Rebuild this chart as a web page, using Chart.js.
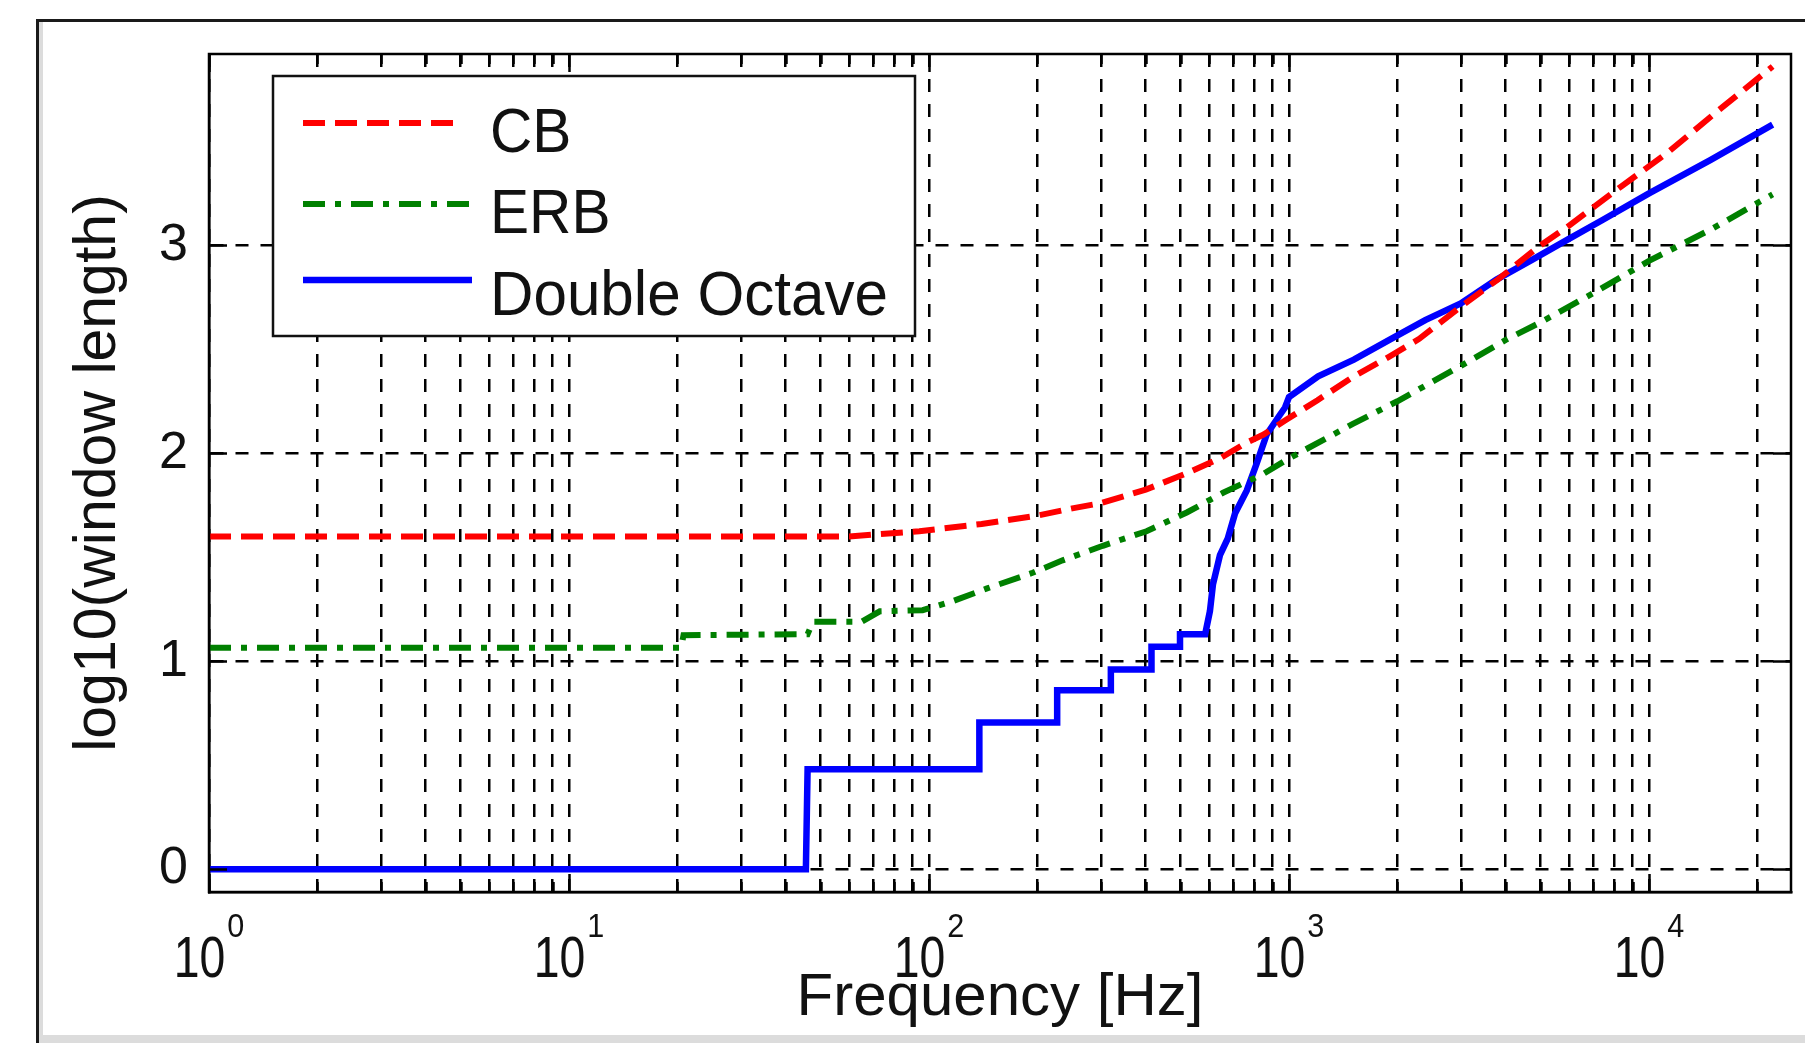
<!DOCTYPE html>
<html>
<head>
<meta charset="utf-8">
<title>log10(window length) vs frequency</title>
<script src="https://cdn.jsdelivr.net/npm/chart.js@4.4.1/dist/chart.umd.min.js"></script>
<style>
    html, body { margin: 0; padding: 0; background: #fff; }
    canvas { display: block; }
</style>
</head>
<body>
<canvas id="chartCanvas" width="1805" height="1043"></canvas>
<script>
// values (x in Hz, y in log10 units)
const cbFreq = [1, 60, 94, 140, 200, 250, 300, 400, 530, 650, 760, 850, 980, 1200, 1500, 1900, 2300, 3000, 3800, 4950, 5950, 8400, 11250, 15500, 22050];
const cbValues = [1.60, 1.60, 1.625, 1.66, 1.70, 1.735, 1.76, 1.825, 1.91, 1.98, 2.05, 2.09, 2.16, 2.255, 2.365, 2.465, 2.55, 2.705, 2.835, 2.995, 3.09, 3.285, 3.445, 3.645, 3.86];

const erbFreq = [1, 20.5, 20.8, 46, 47.6, 65, 73, 96, 117, 145, 194, 235, 304, 402, 520, 656, 847, 1000, 1500, 2000, 3000, 4000, 5000, 7000, 10000, 15000, 22050];
const erbValues = [1.065, 1.065, 1.125, 1.13, 1.19, 1.19, 1.24, 1.245, 1.29, 1.35, 1.425, 1.485, 1.555, 1.625, 1.715, 1.81, 1.90, 1.975, 2.14, 2.25, 2.42, 2.545, 2.63, 2.77, 2.925, 3.08, 3.245];

const octFreq = [1, 45.5, 46, 138, 138, 227, 227, 320, 320, 415, 415, 498, 498, 585, 603, 615, 643, 676, 708, 763, 813, 867, 944, 975, 1000, 1205, 1514, 1900, 2390, 3000, 3770, 4730, 5940, 7470, 10000, 14800, 22050];
const octValues = [0, 0, 0.48, 0.48, 0.705, 0.705, 0.86, 0.86, 0.96, 0.96, 1.07, 1.07, 1.13, 1.13, 1.24, 1.37, 1.51, 1.59, 1.71, 1.82, 1.95, 2.09, 2.185, 2.22, 2.27, 2.37, 2.45, 2.545, 2.64, 2.72, 2.835, 2.93, 3.027, 3.124, 3.25, 3.41, 3.58];

const seriesNames = ['CB', 'ERB', 'Double Octave'];
const yTickValues = [0, 1, 2, 3];
const xDecades = [0, 1, 2, 3, 4];
const xMinorSteps = [1, 2, 3, 4, 5, 6, 7, 8, 9];

const FONT = "'Liberation Sans', Arial, Helvetica, sans-serif";

// minor + major log grid positions, 1 Hz .. 2e4 Hz
const xGridValues = [];
xDecades.forEach((d) => {
    xMinorSteps.forEach((m) => {
        const v = m * Math.pow(10, d);
        if (v <= 20000) xGridValues.push(v);
    });
});

function toPoints(xs, ys) {
    return xs.map((x, i) => ({ x: x, y: ys[i] }));
}

const lineStyles = [
    { color: '#ff0000', width: 6, dash: [22, 10] },
    { color: '#008000', width: 6, dash: [22, 10, 6, 10] },
    { color: '#0000ff', width: 6.5, dash: [] },
];

// squeezed text helper (the reference text is a bit condensed)
function squeezedText(ctx, text, x, y, sx) {
    ctx.save();
    ctx.translate(x, y);
    ctx.scale(sx, 1);
    ctx.fillText(text, 0, 0);
    ctx.restore();
}

// figure frame, inward ticks, axes box
const framePlugin = {
    id: 'frame',
    afterDatasetsDraw(chart) {
        const ctx = chart.ctx;
        const a = chart.chartArea;
        const xs = chart.scales.x;
        const ys = chart.scales.y;
        ctx.save();
        ctx.strokeStyle = '#000';
        ctx.lineWidth = 2.5;
        ctx.setLineDash([]);
        ctx.beginPath();
        xGridValues.forEach((v) => {
            const px = Math.round(xs.getPixelForValue(v)) + 0.5;
            const len = Math.log10(v) % 1 === 0 ? 18 : 10;
            ctx.moveTo(px, a.bottom); ctx.lineTo(px, a.bottom - len);
            ctx.moveTo(px, a.top); ctx.lineTo(px, a.top + len);
        });
        yTickValues.forEach((v) => {
            const py = Math.round(ys.getPixelForValue(v)) + 0.5;
            ctx.moveTo(a.left, py); ctx.lineTo(a.left + 18, py);
            ctx.moveTo(a.right, py); ctx.lineTo(a.right - 18, py);
        });
        ctx.stroke();
        ctx.lineWidth = 2.5;
        ctx.strokeRect(a.left, a.top, a.right - a.left, a.bottom - a.top);
        ctx.restore();
    },
    afterDraw(chart) {
        const ctx = chart.ctx;
        const { width, height } = chart;
        const xs = chart.scales.x;
        ctx.save();
        // window border of the original screenshot
        ctx.fillStyle = '#dcdcdc';
        ctx.fillRect(39, 22, 4, height - 22);
        ctx.fillRect(39, height - 8, width - 39, 8);
        ctx.strokeStyle = '#1a1a1a';
        ctx.lineWidth = 3;
        ctx.beginPath();
        ctx.moveTo(37.5, height);
        ctx.lineTo(37.5, 20.5);
        ctx.lineTo(width, 20.5);
        ctx.stroke();

        // x tick labels 10^k
        ctx.fillStyle = '#111';
        ctx.textBaseline = 'alphabetic';
        ctx.textAlign = 'left';
        xDecades.forEach((k) => {
            const px = xs.getPixelForValue(Math.pow(10, k));
            ctx.font = `58px ${FONT}`;
            const baseW = ctx.measureText('10').width * 0.8;
            ctx.font = `34px ${FONT}`;
            const supW = ctx.measureText(String(k)).width * 0.9;
            const start = px - (baseW + 2 + supW) / 2;
            ctx.font = `58px ${FONT}`;
            squeezedText(ctx, '10', start, 977, 0.8);
            ctx.font = `34px ${FONT}`;
            squeezedText(ctx, String(k), start + baseW + 2, 937, 0.9);
        });
        ctx.restore();
    },
};

// boxed legend in the upper left of the axes
const legendPlugin = {
    id: 'boxLegend',
    afterDraw(chart) {
        const ctx = chart.ctx;
        const a = chart.chartArea;
        const left = a.left + 64;
        const top = a.top + 22;
        const w = 642;
        const h = 260;
        const rowY = [69, 150, 226];
        ctx.save();
        ctx.fillStyle = '#fff';
        ctx.fillRect(left, top, w, h);
        ctx.strokeStyle = '#111';
        ctx.lineWidth = 2.5;
        ctx.strokeRect(left, top, w, h);
        seriesNames.forEach((name, i) => {
            const st = lineStyles[i];
            const y = top + rowY[i] - 22;
            ctx.beginPath();
            ctx.setLineDash(st.dash);
            ctx.strokeStyle = st.color;
            ctx.lineWidth = st.width;
            ctx.moveTo(left + 30, y);
            ctx.lineTo(left + (i === 0 ? 190 : 199), y);
            ctx.stroke();
            ctx.setLineDash([]);
            ctx.fillStyle = '#111';
            ctx.font = `63px ${FONT}`;
            ctx.textBaseline = 'alphabetic';
            ctx.textAlign = 'left';
            squeezedText(ctx, name, left + 217, y + 27 + (i === 2 ? 8 : 2), i === 2 ? 0.955 : 0.93);
        });
        ctx.restore();
    },
};

const datasets = [
    toPoints(cbFreq, cbValues),
    toPoints(erbFreq, erbValues),
    toPoints(octFreq, octValues),
].map((pts, i) => ({
    label: seriesNames[i],
    data: pts,
    showLine: true,
    borderColor: lineStyles[i].color,
    backgroundColor: lineStyles[i].color,
    borderWidth: lineStyles[i].width,
    borderDash: lineStyles[i].dash,
    borderCapStyle: 'butt',
    borderJoinStyle: 'miter',
    pointRadius: 0,
    tension: 0,
    fill: false,
}));

new Chart(document.getElementById('chartCanvas'), {
    type: 'scatter',
    data: { datasets: datasets },
    options: {
        responsive: false,
        animation: false,
        layout: { padding: { top: 54, right: 14, bottom: 0, left: 0 } },
        plugins: {
            legend: { display: false },
            tooltip: { enabled: false },
        },
        scales: {
            x: {
                type: 'logarithmic',
                position: 'bottom',
                min: 1,
                max: 24800,
                afterBuildTicks: (scale) => {
                    scale.ticks = xGridValues.map((v) => ({ value: v }));
                },
                afterFit: (scale) => { scale.height = 151; },
                ticks: { display: false },
                grid: { color: '#000', lineWidth: 2.5, drawTicks: false },
                border: { display: true, color: '#000', width: 2.5, dash: [13, 12] },
                title: {
                    display: true,
                    text: 'Frequency [Hz]',
                    color: '#111',
                    font: { family: FONT, size: 60, lineHeight: 1 },
                    padding: { top: 0, bottom: 15 },
                },
            },
            y: {
                type: 'linear',
                min: -0.11,
                max: 3.92,
                afterBuildTicks: (scale) => {
                    scale.ticks = yTickValues.map((v) => ({ value: v }));
                },
                afterFit: (scale) => { scale.width = 209; },
                ticks: {
                    color: '#111',
                    padding: 21,
                    font: { family: FONT, size: 52 },
                    callback: (v) => String(v),
                },
                grid: { color: '#000', lineWidth: 2.5, drawTicks: false },
                border: { display: true, color: '#000', width: 2.5, dash: [13, 12] },
                title: {
                    display: true,
                    text: 'log10(window length)',
                    color: '#111',
                    font: { family: FONT, size: 59, lineHeight: 1 },
                    padding: { top: 69, bottom: 0 },
                },
            },
        },
    },
    plugins: [framePlugin, legendPlugin],
});
</script>
</body>
</html>
